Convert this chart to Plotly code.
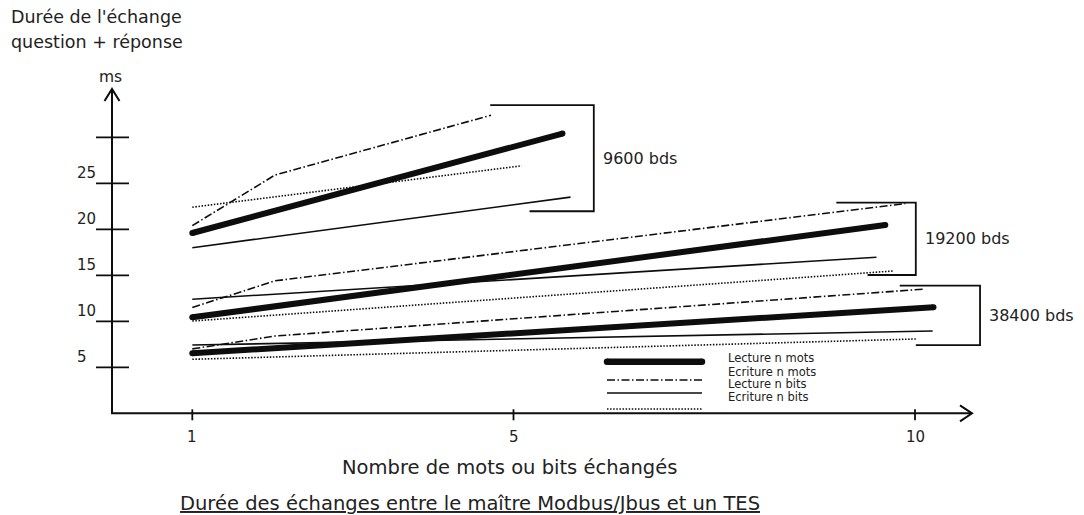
import plotly.graph_objects as go

# Durée de l'échange question + réponse (ms) selon le nombre de mots ou bits échangés
# Suffixes : lm = Lecture n mots, em = Ecriture n mots, lb = Lecture n bits, eb = Ecriture n bits

# 9600 bds
n_lm_9600 = [1, 5.61]
t_lm_9600 = [19.6, 30.4]
n_em_9600 = [1, 2.03, 4.72]
t_em_9600 = [20.4, 25.9, 32.4]
n_lb_9600 = [1, 5.71]
t_lb_9600 = [18.0, 23.5]
n_eb_9600 = [1, 5.10]
t_eb_9600 = [22.4, 26.9]

# 19200 bds
n_lm_19200 = [1, 9.63]
t_lm_19200 = [10.43, 20.47]
n_em_19200 = [1, 2.03, 9.88]
t_em_19200 = [11.5, 14.4, 22.8]
n_lb_19200 = [1, 9.52]
t_lb_19200 = [12.4, 16.96]
n_eb_19200 = [1, 9.73]
t_eb_19200 = [10.03, 15.47]

# 38400 bds
n_lm_38400 = [1, 10.23]
t_lm_38400 = [6.52, 11.52]
n_em_38400 = [1, 2.03, 10.12]
t_em_38400 = [7.0, 8.4, 13.5]
n_lb_38400 = [1, 10.22]
t_lb_38400 = [7.42, 8.95]
n_eb_38400 = [1, 10.01]
t_eb_38400 = [5.87, 8.08]

types = ["Lecture n mots", "Ecriture n mots", "Lecture n bits", "Ecriture n bits"]
vitesses = ["9600 bds", "19200 bds", "38400 bds"]

x_ticks = [1, 5, 10]
y_ticks = [5, 10, 15, 20, 25, 30]
y_tick_labels = ["5", "10", "15", "20", "25", ""]

series = [
    ("Lecture n mots", n_lm_9600, t_lm_9600), ("Ecriture n mots", n_em_9600, t_em_9600),
    ("Lecture n bits", n_lb_9600, t_lb_9600), ("Ecriture n bits", n_eb_9600, t_eb_9600),
    ("Lecture n mots", n_lm_19200, t_lm_19200), ("Ecriture n mots", n_em_19200, t_em_19200),
    ("Lecture n bits", n_lb_19200, t_lb_19200), ("Ecriture n bits", n_eb_19200, t_eb_19200),
    ("Lecture n mots", n_lm_38400, t_lm_38400), ("Ecriture n mots", n_em_38400, t_em_38400),
    ("Lecture n bits", n_lb_38400, t_lb_38400), ("Ecriture n bits", n_eb_38400, t_eb_38400),
]

# Accolades regroupant les fins de courbes de chaque vitesse (x vertical, haut, bas, départs)
brackets = {
    "9600 bds": dict(x=6.0, top=33.5, bottom=21.96, x_top=4.71, x_bot=5.2),
    "19200 bds": dict(x=10.01, top=22.9, bottom=15.03, x_top=9.02, x_bot=9.41),
    "38400 bds": dict(x=10.81, top=13.87, bottom=7.42, x_top=9.81, x_bot=10.01),
}

INK = "#0d0d0d"
TXT = "#222222"
FONT = "DejaVu Sans"

styles = {
    "Lecture n mots": dict(width=6, dash="solid"),
    "Ecriture n mots": dict(width=1.6, dash="8px,2.5px,1.5px,2.5px"),
    "Lecture n bits": dict(width=1.6, dash="solid"),
    "Ecriture n bits": dict(width=1.6, dash="1.5px,1.6px"),
}

W, H = 1084, 515
PX_PER_N = 80.3
PX_PER_MS = 9.2
X0_PX, Y0_PX = 112, 413.3
x_range = [-X0_PX / PX_PER_N, (W - X0_PX) / PX_PER_N]
y_range = [-(H - Y0_PX) / PX_PER_MS, Y0_PX / PX_PER_MS]

fig = go.Figure()

for kind, n, t in series:
    st = styles[kind]
    thick = kind == "Lecture n mots"
    fig.add_trace(go.Scatter(
        x=n, y=t, mode="lines+markers" if thick else "lines",
        line=dict(color=INK, width=st["width"], dash=st["dash"]),
        marker=dict(color=INK, size=st["width"], line=dict(width=0)),
        hoverinfo="skip", showlegend=False,
    ))

# Axes avec flèches
x_end = (972 - X0_PX) / PX_PER_N
y_end = (Y0_PX - 89) / PX_PER_MS
fig.add_trace(go.Scatter(x=[0, 0, x_end], y=[y_end, 0, 0], mode="lines",
                         line=dict(color=INK, width=2), hoverinfo="skip", showlegend=False))

shapes = []
# Pointes de flèche ouvertes
shapes.append(dict(type="path", xref="x", yref="y", xsizemode="pixel", ysizemode="pixel",
                   xanchor=0, yanchor=y_end,
                   path="M -7.5,-12 L 0,0 L 7.5,-12", line=dict(color=INK, width=2)))
shapes.append(dict(type="path", xref="x", yref="y", xsizemode="pixel", ysizemode="pixel",
                   xanchor=x_end, yanchor=0,
                   path="M -12,8 L 0,0 L -12,-8", line=dict(color=INK, width=2)))

# Graduations traversant les axes
for v in y_ticks:
    shapes.append(dict(type="line", xref="x", yref="y", xsizemode="pixel", xanchor=0,
                       x0=-16, x1=17, y0=v, y1=v, line=dict(color=INK, width=1.8)))
for v in x_ticks:
    shapes.append(dict(type="line", xref="x", yref="y", ysizemode="pixel", yanchor=0,
                       x0=v, x1=v, y0=-7, y1=4, line=dict(color=INK, width=1.8)))

for name in vitesses:
    b = brackets[name]
    shapes.append(dict(type="path", xref="x", yref="y",
                       path=f"M {b['x_top']},{b['top']} L {b['x']},{b['top']} "
                            f"L {b['x']},{b['bottom']} L {b['x_bot']},{b['bottom']}",
                       line=dict(color=INK, width=1.8)))

annotations = []
for v, lab in zip(y_ticks, y_tick_labels):
    if lab:
        annotations.append(dict(x=0, y=v, xref="x", yref="y", text=lab, showarrow=False,
                                xanchor="left", yanchor="middle", xshift=-37, yshift=10,
                                font=dict(family=FONT, size=15, color=TXT)))
for v in x_ticks:
    annotations.append(dict(x=v, y=0, xref="x", yref="y", text=str(v), showarrow=False,
                            xanchor="center", yanchor="middle", yshift=-24,
                            font=dict(family=FONT, size=15, color=TXT)))

# Étiquettes des vitesses à droite des accolades
for name in vitesses:
    b = brackets[name]
    annotations.append(dict(x=b["x"], y=(b["top"] + b["bottom"]) / 2, xref="x", yref="y",
                            text=name, showarrow=False, xanchor="left", yanchor="middle",
                            xshift=7, font=dict(family=FONT, size=16, color=TXT)))


def px_text(x, y, text, size, anchor="left"):
    annotations.append(dict(x=x, y=y, xref="x2", yref="y2", text=text, showarrow=False,
                            xanchor=anchor, yanchor="middle",
                            font=dict(family=FONT, size=size, color=TXT)))


px_text(9, 17, "Durée de l'échange", 17.5)
px_text(9, 42, "question + réponse", 17.5)
px_text(110, 77, "ms", 15.5, "center")
px_text(509, 467, "Nombre de mots ou bits échangés", 19.5, "center")
px_text(470, 503, "<span style='text-decoration:underline'>Durée des échanges entre le maître "
                  "Modbus/Jbus et un TES</span>", 19.5, "center")

# Légende des styles de trait
legend_y = [361.7, 380, 393, 409]
legend_text_y = [358.3, 372.3, 384.3, 397.3]
for kind, ly, ty in zip(types, legend_y, legend_text_y):
    st = styles[kind]
    thick = kind == "Lecture n mots"
    fig.add_trace(go.Scatter(
        x=[607, 702], y=[ly, ly], xaxis="x2", yaxis="y2",
        mode="lines+markers" if thick else "lines",
        line=dict(color=INK, width=6.5 if thick else st["width"], dash=st["dash"]),
        marker=dict(color=INK, size=6.5, line=dict(width=0)),
        hoverinfo="skip", showlegend=False,
    ))
    px_text(726, ty, kind, 11.5)

fig.update_layout(
    width=W, height=H, margin=dict(l=0, r=0, t=0, b=0),
    paper_bgcolor="white", plot_bgcolor="white",
    xaxis=dict(range=x_range, visible=False, fixedrange=True),
    yaxis=dict(range=y_range, visible=False, fixedrange=True),
    xaxis2=dict(range=[0, W], overlaying="x", visible=False, fixedrange=True),
    yaxis2=dict(range=[H, 0], overlaying="y", visible=False, fixedrange=True),
    shapes=shapes, annotations=annotations, showlegend=False,
)

fig.write_html("out.html")
